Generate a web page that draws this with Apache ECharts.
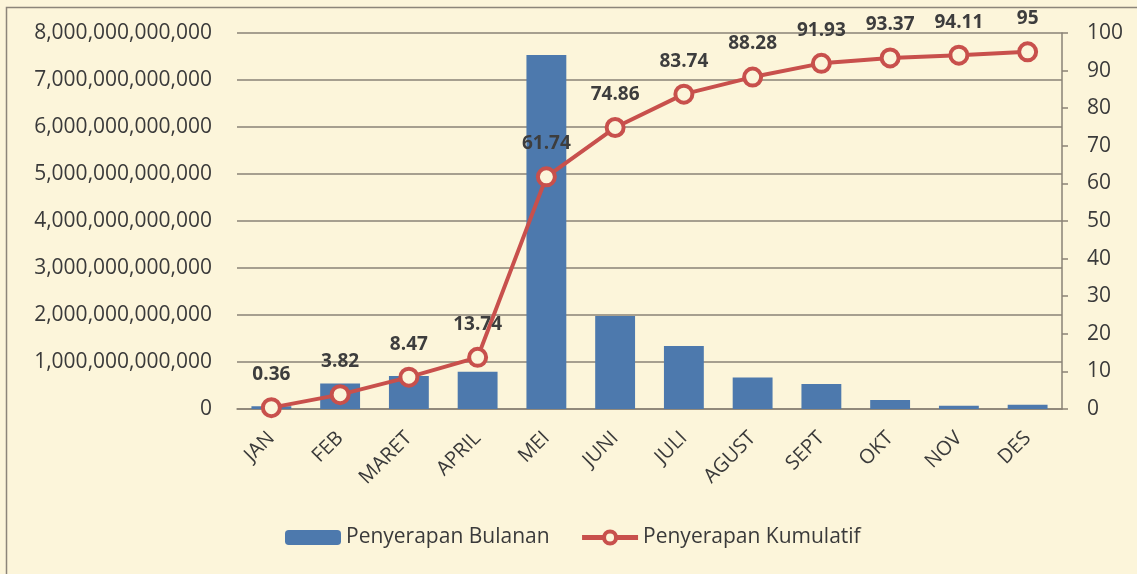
<!DOCTYPE html>
<html>
<head>
<meta charset="utf-8">
<script src="https://cdn.jsdelivr.net/npm/echarts@6/dist/echarts.min.js"></script>
<style>
html,body{margin:0;padding:0;background:#FCF5DA;}
#c{width:1137px;height:574px;}
</style>
</head>
<body>
<div id="c"></div>
<script>
var categories = ['JAN','FEB','MARET','APRIL','MEI','JUNI','JULI','AGUST','SEPT','OKT','NOV','DES'];
var monthly = [0.06e12, 0.54e12, 0.70e12, 0.79e12, 7.53e12, 1.98e12, 1.34e12, 0.67e12, 0.53e12, 0.19e12, 0.07e12, 0.09e12];
var cumulative = [0.36, 3.82, 8.47, 13.74, 61.74, 74.86, 83.74, 88.28, 91.93, 93.37, 94.11, 95];
var leftTicks = {min: 0, max: 8e12, interval: 1e12};
var rightTicks = {min: 0, max: 100, interval: 10};

var FONT = '"Open Sans", "Noto Sans", sans-serif';
var RED = '#C8504C';
var chart = echarts.init(document.getElementById('c'));
chart.setOption({
  backgroundColor: '#FCF5DA',
  animation: false,
  textStyle: {fontFamily: FONT},
  graphic: [{
    type: 'rect', silent: true, z: -1,
    shape: {x: 6.5, y: 7.5, width: 1140, height: 580},
    style: {fill: 'none', stroke: '#8c857a', lineWidth: 1.5}
  }],
  grid: {left: 237, right: 75, top: 33, bottom: 165, containLabel: false},
  legend: {
    bottom: 21, left: 280, itemGap: 30, itemWidth: 56, itemHeight: 15,
    textStyle: {fontSize: 21, color: '#3a3a3a', fontFamily: FONT},
    data: [
      {name: 'Penyerapan Bulanan'},
      {name: 'Penyerapan Kumulatif',
       itemStyle: {color: '#FCF5DA', borderColor: RED, borderWidth: 4},
       lineStyle: {color: RED, width: 5}}
    ]
  },
  xAxis: {
    type: 'category', data: categories,
    axisLine: {show: true, lineStyle: {color: '#8a8276', width: 1.5}},
    axisTick: {show: false},
    axisLabel: {rotate: 45, fontSize: 20, color: '#3a3a3a', margin: 26, interval: 0}
  },
  yAxis: [{
    type: 'value', min: leftTicks.min, max: leftTicks.max, interval: leftTicks.interval,
    axisLine: {show: false}, axisTick: {show: false},
    splitLine: {show: true, lineStyle: {color: '#8a8276', width: 1.5}},
    axisLabel: {fontSize: 21, color: '#3a3a3a', margin: 25,
      formatter: function (v) { return Math.round(v).toLocaleString('en-US'); }}
  }, {
    type: 'value', position: 'right', min: rightTicks.min, max: rightTicks.max, interval: rightTicks.interval,
    axisLine: {show: true, lineStyle: {color: '#8a8276', width: 1.5}},
    axisTick: {show: true, inside: false, length: 6, lineStyle: {color: '#8a8276', width: 1.5}},
    splitLine: {show: false},
    axisLabel: {fontSize: 21, color: '#3a3a3a', margin: 25}
  }],
  series: [{
    name: 'Penyerapan Bulanan', type: 'bar', data: monthly, yAxisIndex: 0,
    barWidth: '58%',
    itemStyle: {color: '#4D79AD'}
  }, {
    name: 'Penyerapan Kumulatif', type: 'line', data: cumulative, yAxisIndex: 1,
    symbol: 'circle', symbolSize: 17,
    lineStyle: {color: RED, width: 4},
    itemStyle: {color: '#FCF5DA', borderColor: RED, borderWidth: 4},
    label: {show: true, position: 'top', distance: 13, fontSize: 19, fontWeight: 'bold', color: '#3d3d3d'},
    z: 3
  }]
});
</script>
</body>
</html>
